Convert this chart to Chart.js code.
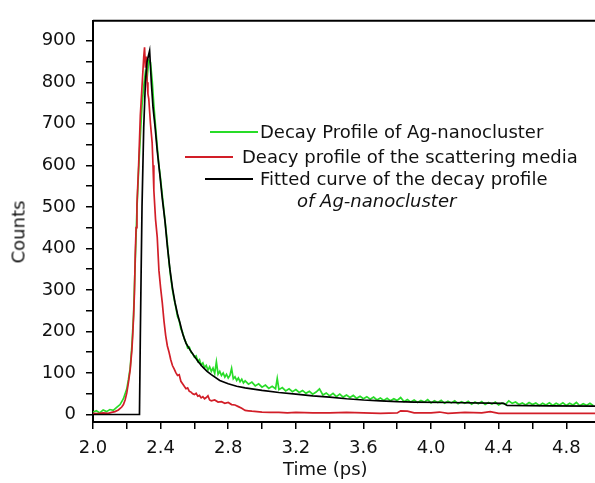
<!DOCTYPE html>
<html>
<head>
<meta charset="utf-8">
<script src="https://cdn.jsdelivr.net/npm/chart.js@4.4.0/dist/chart.umd.min.js"></script>
<style>
html,body{margin:0;padding:0;background:#fff;}
#wrap{position:relative;width:595px;height:483px;overflow:hidden;}
canvas{position:absolute;left:0;top:0;}
.lg{position:absolute;font-family:"DejaVu Sans",sans-serif;font-size:18px;color:#111;white-space:nowrap;line-height:22px;}
.ln{position:absolute;height:2px;}
.ttl{position:absolute;font-family:"DejaVu Sans",sans-serif;font-size:18px;color:#111;white-space:nowrap;}
</style>
</head>
<body>
<div id="wrap">
<canvas id="c" width="595" height="483"></canvas>
<div class="ln" style="left:210px;top:131px;width:48px;background:rgb(40,220,40);"></div>
<div class="lg" style="left:260px;top:121px;">Decay Profile of Ag-nanocluster</div>
<div class="ln" style="left:185px;top:156px;width:48px;background:rgb(210,30,40);"></div>
<div class="lg" style="left:242px;top:146px;">Deacy profile of the scattering media</div>
<div class="ln" style="left:205px;top:178px;width:48px;background:#000;"></div>
<div class="lg" style="left:260px;top:168px;">Fitted curve of the decay profile</div>
<div class="lg" style="left:297px;top:190px;font-style:italic;">of Ag-nanocluster</div>
<div class="ttl" style="left:283px;top:458px;">Time (ps)</div>
<div class="ttl" style="left:18px;top:232px;transform:translate(-50%,-50%) rotate(-90deg);">Counts</div>
</div>
<script>
const xTicksStep = 0.2;
const yTicksStep = 50;

const greenT = [2.00,2.02,2.04,2.06,2.08,2.10,2.12,2.14,2.16,2.18,2.20,2.21,2.22,2.23,2.24,2.25,2.26,2.27,2.28,2.29,2.30,2.31,2.32,2.33,2.34,2.35,2.36,2.37,2.38,2.39,2.40,2.41,2.42,2.43,2.44,2.45,2.46,2.47,2.48,2.49,2.50,2.51,2.52,2.53,2.54,2.55,2.56,2.57,2.58,2.59,2.60,2.61,2.62,2.63,2.64,2.65,2.66,2.67,2.68,2.69,2.70,2.71,2.72,2.73,2.74,2.75,2.76,2.77,2.78,2.79,2.80,2.81,2.82,2.83,2.84,2.85,2.86,2.87,2.88,2.89,2.90,2.92,2.94,2.96,2.98,3.00,3.02,3.04,3.06,3.08,3.09,3.10,3.12,3.14,3.16,3.18,3.20,3.22,3.24,3.26,3.28,3.30,3.32,3.34,3.36,3.38,3.40,3.42,3.44,3.46,3.48,3.50,3.52,3.54,3.56,3.58,3.60,3.62,3.64,3.66,3.68,3.70,3.72,3.74,3.76,3.78,3.80,3.82,3.84,3.86,3.88,3.90,3.92,3.94,3.96,3.98,4.00,4.02,4.04,4.06,4.08,4.10,4.12,4.14,4.16,4.18,4.20,4.22,4.24,4.26,4.28,4.30,4.32,4.34,4.36,4.38,4.40,4.42,4.44,4.46,4.48,4.50,4.52,4.54,4.56,4.58,4.60,4.62,4.64,4.66,4.68,4.70,4.72,4.74,4.76,4.78,4.80,4.82,4.84,4.86,4.88,4.90,4.92,4.94,4.96];
const greenY = [6,9,4,11,7,12,10,17,24,38,62,85,112,165,240,370,495,590,670,745,790,825,810,852,848,805,745,694,645,600,566,528,490,452,412,365,330,300,278,258,236,226,206,198,182,174,160,162,150,146,138,141,128,132,119,124,113,118,107,115,104,112,99,127,97,104,94,100,90,97,88,94,111,86,91,82,88,79,85,76,81,73,78,69,74,66,71,63,68,62,87,60,65,57,62,55,60,53,58,51,56,49,54,62,47,52,45,51,43,49,42,47,41,46,39,44,38,43,37,42,35,40,34,39,33,38,34,41,31,36,30,35,29,34,30,36,28,33,29,34,27,32,28,33,26,31,27,32,25,30,26,31,24,29,25,30,23,28,24,33,27,30,24,28,23,29,24,28,22,27,23,28,22,27,23,28,22,27,23,29,21,26,22,27,21];

const redT = [2.00,2.03,2.06,2.09,2.11,2.13,2.15,2.17,2.18,2.19,2.20,2.21,2.22,2.23,2.235,2.24,2.245,2.25,2.255,2.26,2.27,2.28,2.29,2.30,2.305,2.31,2.315,2.32,2.325,2.33,2.34,2.35,2.355,2.36,2.37,2.38,2.39,2.40,2.41,2.42,2.43,2.44,2.45,2.46,2.47,2.48,2.49,2.50,2.51,2.52,2.53,2.54,2.55,2.56,2.57,2.58,2.59,2.60,2.61,2.62,2.63,2.64,2.65,2.66,2.67,2.68,2.69,2.70,2.72,2.74,2.76,2.78,2.80,2.82,2.84,2.86,2.88,2.90,2.92,2.94,2.97,3.00,3.05,3.10,3.15,3.20,3.30,3.40,3.50,3.60,3.70,3.80,3.82,3.86,3.90,4.00,4.05,4.10,4.20,4.30,4.35,4.40,4.50,4.60,4.80,4.97];
const redY = [3,2,4,3,5,7,11,18,24,35,52,78,108,155,191,235,290,385,450,505,600,720,790,860,884,835,862,800,772,760,700,654,600,540,470,427,347,305,269,225,190,165,150,132,118,110,101,94,96,80,74,68,62,64,56,54,50,48,51,44,46,40,43,38,41,45,35,33,35,30,31,27,29,24,23,19,15,10,9,8,7,6,5,5,4,5,4,4,5,4,3,4,9,8,4,4,6,3,5,4,7,3,3,3,3,3];

const fitT = [2.00,2.275,2.28,2.285,2.29,2.30,2.31,2.32,2.335,2.345,2.355,2.367,2.38,2.396,2.41,2.426,2.44,2.455,2.47,2.485,2.50,2.515,2.53,2.55,2.575,2.60,2.625,2.65,2.675,2.70,2.75,2.80,2.85,2.90,3.00,3.10,3.20,3.30,3.40,3.50,3.60,3.70,3.80,3.90,4.10,4.43,4.45,4.70,4.97];
const fitY = [0,0,190,350,500,690,800,850,876,800,740,694,635,576,520,465,405,350,305,270,242,220,195,172,155,140,126,114,104,96,82,74,68,64,58,53,49,45,42,38,35,33,31,30,29,27,22,21,20];

function pts(t, y){ return t.map((v,i)=>({x:v, y:y[i]})); }

const topBorder = {
  id:'topBorder',
  afterDraw(chart){
    const {ctx, chartArea:a} = chart;
    ctx.save();
    ctx.strokeStyle = '#000';
    ctx.lineWidth = 2;
    ctx.beginPath();
    ctx.moveTo(a.left, a.top);
    ctx.lineTo(a.right, a.top);
    ctx.stroke();
    ctx.restore();
  }
};

new Chart(document.getElementById('c'), {
  type:'line',
  data:{
    datasets:[
      {label:'Fitted curve of the decay profile of Ag-nanocluster', data:pts(fitT,fitY), borderColor:'#000', borderWidth:1.7, pointRadius:0, tension:0, order:0},
      {label:'Deacy profile of the scattering media', data:pts(redT,redY), borderColor:'rgb(210,30,40)', borderWidth:1.7, pointRadius:0, tension:0, order:1},
      {label:'Decay Profile of Ag-nanocluster', data:pts(greenT,greenY), borderColor:'rgb(40,220,40)', borderWidth:1.7, pointRadius:0, tension:0, order:2}
    ]
  },
  options:{
    responsive:false,
    animation:false,
    events:[],
    layout:{padding:{top:12,right:0,left:0,bottom:0}},
    plugins:{legend:{display:false}, tooltip:{enabled:false}},
    scales:{
      x:{
        type:'linear', min:2.0, max:4.97,
        afterFit(s){ s.height = 61; },
        border:{display:true,color:'#000',width:2},
        grid:{display:true,drawOnChartArea:false,drawTicks:true,tickLength:7,color:'#000',lineWidth:1.5},
        ticks:{stepSize:xTicksStep, includeBounds:false, autoSkip:false, maxRotation:0, padding:9, color:'#111',
          font:{family:'DejaVu Sans', size:18},
          callback(v){ return Math.round(v*10)%4===0 ? v.toFixed(1) : ''; }}
      },
      y:{
        type:'linear', min:-18, max:948,
        afterFit(s){ s.width = 93; },
        border:{display:true,color:'#000',width:2},
        grid:{display:true,drawOnChartArea:false,drawTicks:true,tickLength:7,color:'#000',lineWidth:1.5},
        ticks:{stepSize:yTicksStep, includeBounds:false, autoSkip:false, padding:10, color:'#111',
          font:{family:'DejaVu Sans', size:18},
          callback(v){ return Math.round(v)%100===0 ? String(Math.round(v)) : ''; }}
      }
    }
  },
  plugins:[topBorder]
});
</script>
</body>
</html>
